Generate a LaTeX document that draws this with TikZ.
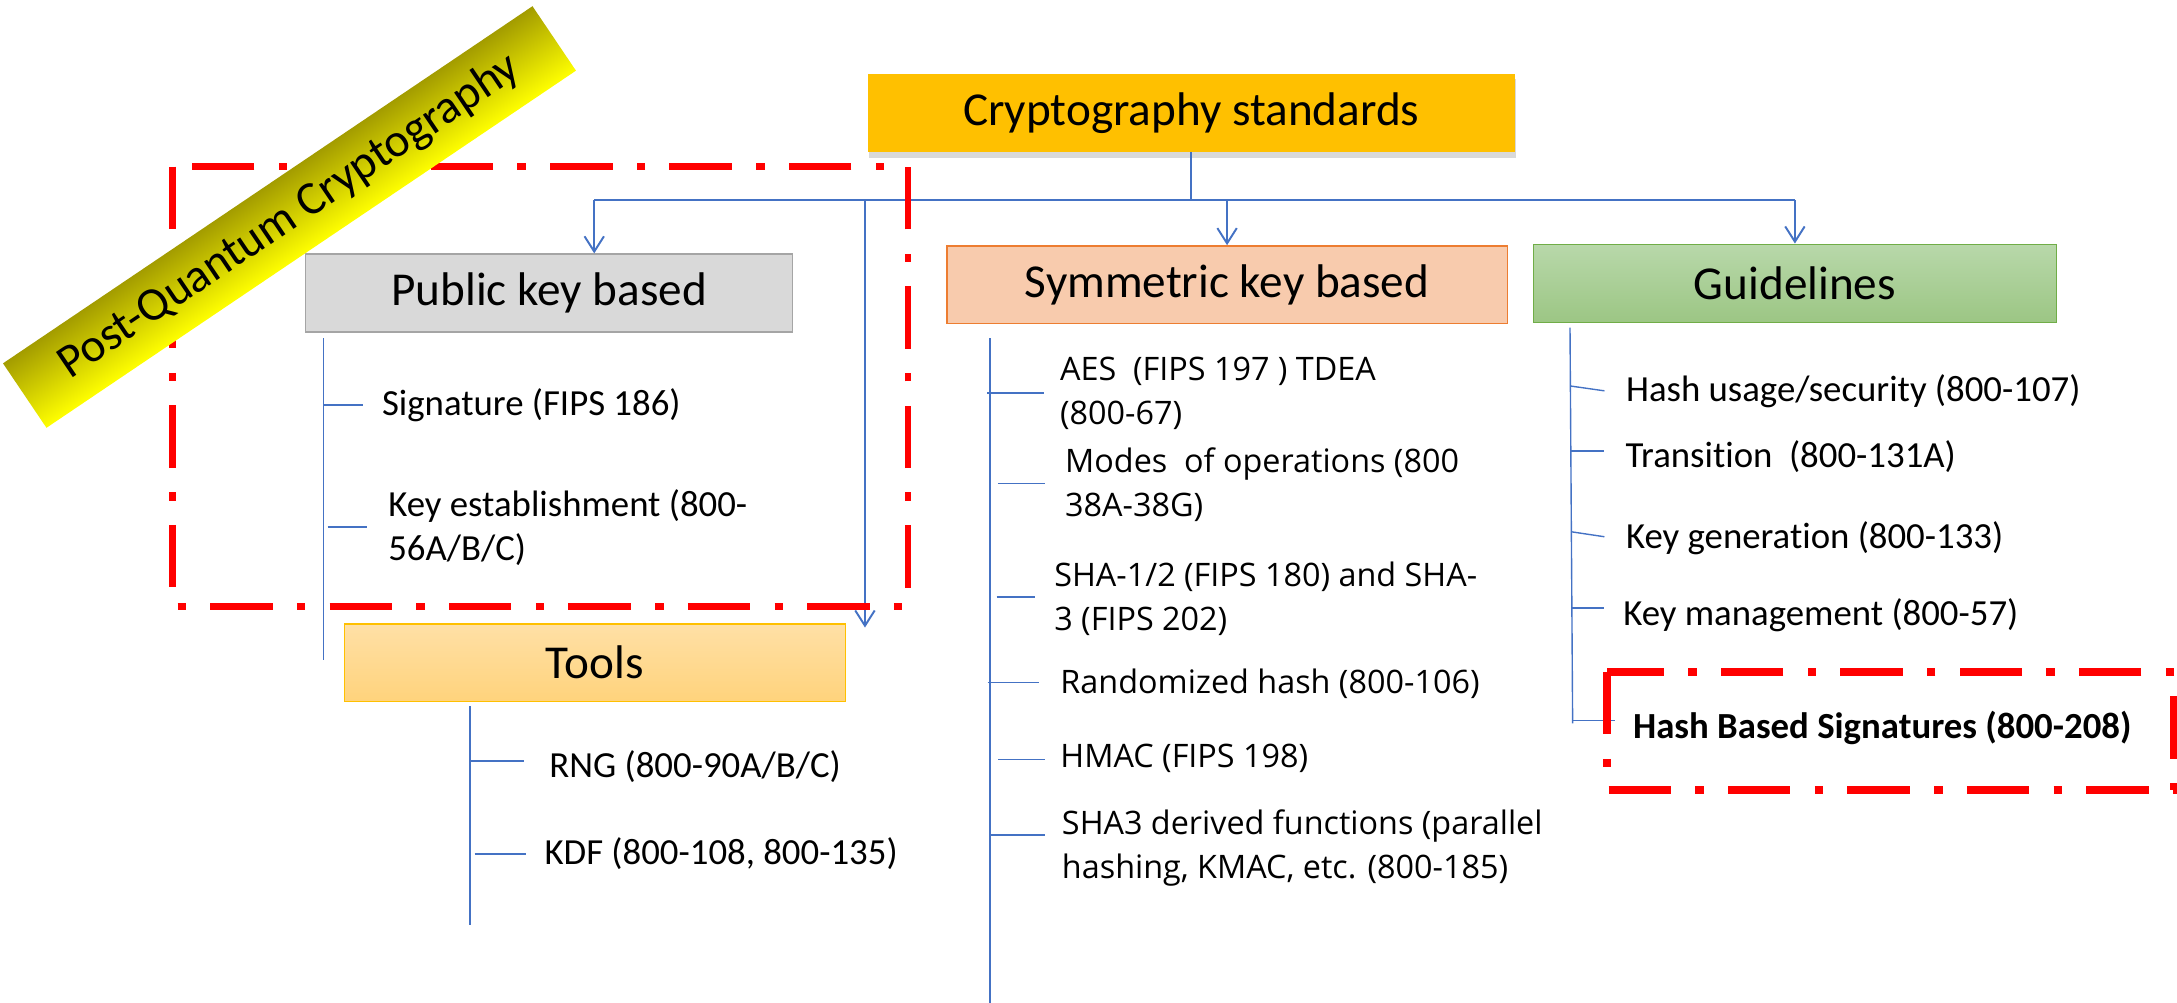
\documentclass[tikz,border=0pt]{standalone}
\usepackage{fontspec}
\setmainfont[Ligatures=NoCommon]{Carlito}
\newfontfamily\osans{Open Sans}
\usetikzlibrary{arrows.meta,shadows}
\definecolor{blueln}{HTML}{4472C4}
\definecolor{rootfill}{HTML}{FFC000}
\definecolor{pubfill}{HTML}{D9D9D9}
\definecolor{pubdraw}{HTML}{A5A5A5}
\definecolor{symfill}{HTML}{F8CBAD}
\definecolor{symdraw}{HTML}{ED7D31}
\definecolor{gltop}{HTML}{B8D8AA}
\definecolor{glbot}{HTML}{9CC684}
\definecolor{gldraw}{HTML}{70AD47}
\definecolor{tltop}{HTML}{FFE0A6}
\definecolor{tlbot}{HTML}{FFD37C}
\definecolor{olive}{HTML}{A39C00}
\definecolor{bannermid}{HTML}{E6E000}
\definecolor{redline}{HTML}{FF0000}
\begin{document}
\begin{tikzpicture}[x=1pt,y=-1pt,
  conn/.style={draw=blueln, line width=1.4pt},
  arr/.style={conn, -{Straight Barb[length=11pt,width=14pt,line width=1.4pt]}},
  subln/.style={draw=blueln, line width=1pt},
  head/.style={inner sep=0pt, font=\fontsize{34}{40}\selectfont},
  item/.style={anchor=west, inner sep=0pt, align=left, font=\fontsize{26.5}{31.6}\selectfont},
  symitem/.style={anchor=west, inner sep=0pt, align=left, font=\osans\fontsize{23.3}{31.7}\selectfont},
  redbox/.style={draw=redline, line width=5pt, dash pattern=on 45pt off 17.5pt on 6pt off 17.5pt},
]
\useasboundingbox (0,0) rectangle (1568,722);

% ---- boxes ----
\node[head, fill=rootfill, minimum width=466, minimum height=56.5,
      drop shadow={shadow xshift=1pt, shadow yshift=-4pt, opacity=.3}] (root) at (858,81.3) {Cryptography standards};
\node[head, fill=pubfill, draw=pubdraw, line width=1pt, minimum width=351, minimum height=56] (pub) at (395.5,211) {Public key based};
\node[head, fill=symfill, draw=symdraw, line width=1pt, minimum width=403.6, minimum height=55.8] (sym) at (883.8,205) {Symmetric key based};
\node[head, top color=gltop, bottom color=glbot, draw=gldraw, line width=1pt, minimum width=376.5, minimum height=56.2] (gl) at (1292.8,204) {Guidelines};
\node[head, top color=tltop, bottom color=tlbot, draw=rootfill, line width=1pt, minimum width=361, minimum height=55.7] (tools) at (428.5,477.2) {Tools};

% ---- bus and arrows ----
\coordinate (bus) at (0,144);
\coordinate (busL) at (428,144);
\coordinate (toolsTop) at (623,144);
\coordinate (toolsTip) at (623,452);
\draw[conn] (root.south) -- (root.south |- bus);
\draw[conn] (busL) -- (gl.north |- bus);
\draw[arr] (busL) -- (busL |- pub.north);
\draw[arr] (toolsTop) -- (toolsTip);
\draw[arr] (sym.north |- bus) -- (sym.north);
\draw[arr] (gl.north |- bus) -- (gl.north);

% ---- public key sub-list ----
\draw[subln] (233,243.5) -- (233,475.5);
\node[item] (sig) at (275,291.8) {Signature (FIPS 186)};
\node[item] (kest) at (279.5,380.3) {Key establishment (800-\\56A/B/C)};
\coordinate (p1) at (233,291.8); \coordinate (p1e) at (261.5,291.8);
\coordinate (p2) at (236,379.6); \coordinate (p2e) at (264.5,379.6);
\draw[subln] (p1) -- (p1e);
\draw[subln] (p2) -- (p2e);

% ---- tools sub-list ----
\draw[subln] (338.6,508.6) -- (338.6,666);
\node[item] (rng) at (395.5,552) {RNG (800-90A/B/C)};
\node[item] (kdf) at (392,615) {KDF (800-108, 800-135)};
\coordinate (t1) at (338.6,548); \coordinate (t1e) at (377.5,548);
\coordinate (t2) at (341.8,615); \coordinate (t2e) at (379,615);
\draw[subln] (t1) -- (t1e);
\draw[subln] (t2) -- (t2e);

% ---- symmetric sub-list ----
\draw[subln] (713,243.5) -- (713,724);
\node[symitem] (aes) at (763.3,283.5) {AES~~(FIPS 197 ) TDEA\\(800-67)};
\node[symitem] (modes) at (767,349.4) {Modes~~of operations (800\\38A-38G)};
\node[symitem] (sha) at (759.2,431.3) {SHA-1/2 (FIPS 180) and SHA-\\3 (FIPS 202)};
\node[symitem] (rand) at (763.6,492.7) {Randomized hash (800-106)};
\node[symitem] (hmac) at (763.6,546.5) {HMAC (FIPS 198)};
\node[symitem] (sha3) at (764.7,611) {SHA3 derived functions (parallel\\hashing, KMAC, etc. (800-185)};
\coordinate (s1) at (711,283.1);   \coordinate (s1e) at (751.8,283.1);
\coordinate (s2) at (718.8,348.3); \coordinate (s2e) at (752.3,348.3);
\coordinate (s3) at (717.9,429.9); \coordinate (s3e) at (745.6,429.9);
\coordinate (s4) at (711.3,491.7); \coordinate (s4e) at (748.5,491.7);
\coordinate (s5) at (719,547.2);   \coordinate (s5e) at (752.6,547.2);
\coordinate (s6) at (714,601.4);   \coordinate (s6e) at (752.6,601.4);
\foreach \a in {1,...,6}{\draw[subln] (s\a) -- (s\a e);}

% ---- guidelines sub-list ----
\draw[subln] (1130.8,236) -- (1132.7,521);
\node[item] (hu) at (1171,282) {Hash usage/security (800-107)};
\node[item] (tr) at (1170.6,329) {Transition~~(800-131A)};
\node[item] (kg) at (1171,387.7) {Key generation (800-133)};
\node[item] (km) at (1169,443) {Key management (800-57)};
\node[item, font=\bfseries\fontsize{26.5}{31.6}\selectfont] (hbs) at (1176,524.5) {Hash Based Signatures (800-208)};
\coordinate (g1) at (1130.9,278);   \coordinate (g1e) at (1155.6,281.5);
\coordinate (g2) at (1131.2,324.7); \coordinate (g2e) at (1155.6,324.7);
\coordinate (g3) at (1131.6,383);   \coordinate (g3e) at (1155.6,386.6);
\coordinate (g4) at (1132,438);     \coordinate (g4e) at (1155.6,438);
\coordinate (g5) at (1132.7,519);   \coordinate (g5e) at (1163,519);
\foreach \a in {1,...,5}{\draw[subln] (g\a) -- (g\a e);}

% ---- red dash-dot frames ----
\draw[redbox] (124,120) rectangle (654,436.6);
\draw[redbox, line width=6pt] (1157.6,484) rectangle (1566,569);

% ---- banner (canvas-rotated so that its shading turns with it) ----
\begin{scope}[transform canvas={shift={(208.5,156.3)}, rotate=34}]
\node[minimum width=460, minimum height=56, inner sep=0pt,
      top color=olive, middle color=bannermid, bottom color=yellow,
      font=\fontsize{34}{40}\selectfont] (pqc) at (0,0) {Post-Quantum Cryptography};
\end{scope}
\end{tikzpicture}
\end{document}
